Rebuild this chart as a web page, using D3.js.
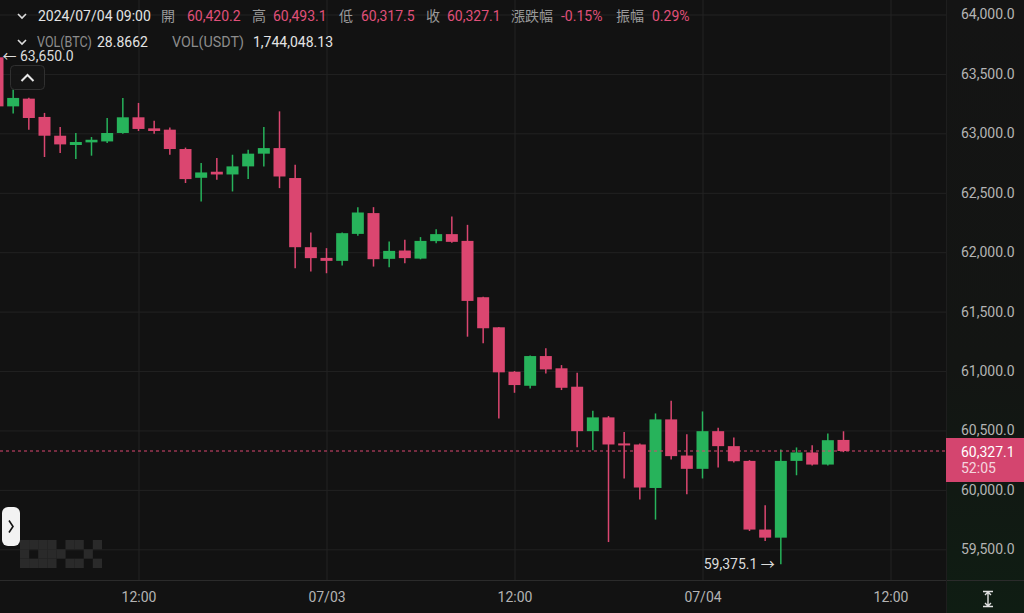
<!DOCTYPE html>
<html><head><meta charset="utf-8">
<script src="https://cdn.jsdelivr.net/npm/d3@7"></script>
<style>
html,body{margin:0;padding:0;background:#121212;}
svg{display:block;font-family:Roboto,"Noto Sans CJK TC",sans-serif;}
</style></head>
<body>
<svg id="c" width="1024" height="613"></svg>
<script>
// ---- data (BTC/USDT, 1h candles) ----
const times = [
 "2024-07-02T03:00","2024-07-02T04:00","2024-07-02T05:00","2024-07-02T06:00","2024-07-02T07:00",
 "2024-07-02T08:00","2024-07-02T09:00","2024-07-02T10:00","2024-07-02T11:00","2024-07-02T12:00",
 "2024-07-02T13:00","2024-07-02T14:00","2024-07-02T15:00","2024-07-02T16:00","2024-07-02T17:00",
 "2024-07-02T18:00","2024-07-02T19:00","2024-07-02T20:00","2024-07-02T21:00","2024-07-02T22:00",
 "2024-07-02T23:00","2024-07-03T00:00","2024-07-03T01:00","2024-07-03T02:00","2024-07-03T03:00",
 "2024-07-03T04:00","2024-07-03T05:00","2024-07-03T06:00","2024-07-03T07:00","2024-07-03T08:00",
 "2024-07-03T09:00","2024-07-03T10:00","2024-07-03T11:00","2024-07-03T12:00","2024-07-03T13:00",
 "2024-07-03T14:00","2024-07-03T15:00","2024-07-03T16:00","2024-07-03T17:00","2024-07-03T18:00",
 "2024-07-03T19:00","2024-07-03T20:00","2024-07-03T21:00","2024-07-03T22:00","2024-07-03T23:00",
 "2024-07-04T00:00","2024-07-04T01:00","2024-07-04T02:00","2024-07-04T03:00","2024-07-04T04:00",
 "2024-07-04T05:00","2024-07-04T06:00","2024-07-04T07:00","2024-07-04T08:00","2024-07-04T09:00"];
const opens  = [63640,63227,63292,63138,62980,62902,62924,62932,63003,63135,63042,63031,62868,62626,62677,
 62654,62722,62829,62876,62624,62042,61952,61927,62154,62329,61944,62014,61946,62093,62152,
 62095,61621,61368,60994,60876,61126,61023,60868,60494,60610,60391,60382,60016,60593,60289,
 60177,60494,60368,60244,59666,59598,60244,60315,60213,60420.2];
const highs  = [63650,63368,63300,63172,63054,63003,62969,63129,63298,63256,63107,63050,62880,62750,62792,
 62820,62862,63054,63185,62736,62165,62034,62165,62379,62379,62089,62104,62127,62194,62300,
 62230,61625,61370,61000,61130,61191,61050,60986,60665,60621,60488,60390,60643,60750,60469,
 60660,60522,60441,60250,59871,60340,60357,60376,60475,60493.1];
const lows   = [63180,63166,63031,62801,62834,62784,62812,62919,62997,63020,62997,62820,62582,62427,62609,
 62511,62615,62722,62539,61865,61837,61823,61887,62138,61879,61874,61907,61940,62076,62080,
 61289,61233,60601,60817,60854,60980,60840,60359,60334,59561,60096,59919,59750,60256,59963,
 60096,60188,60230,59654,59570,59375.1,60123,60205,60205,60317.5];
const closes = [63227,63298,63129,62980,62907,62927,62946,63003,63135,63037,63020,62868,62615,62671,62654,
 62722,62829,62876,62637,62042,61950,61927,62160,62334,61941,62011,61950,62095,62152,62087,
 61590,61360,60989,60882,61126,61014,60859,60494,60610,60382,60374,60020,60593,60284,60177,
 60494,60368,60241,59666,59598,60244,60315,60213,60418,60327.1];
const yTicks = [59500,60000,60500,61000,61500,62000,62500,63000,63500,64000];
const xTicks = ["2024-07-02T12:00","2024-07-03T00:00","2024-07-03T12:00","2024-07-04T00:00","2024-07-04T12:00"];
const lastPrice = 60327.1;
const countdown = "52:05";
const headerItems = [
  ["2024/07/04 09:00","#e4e4e4",38],["開","#9a9a9a",161],["60,420.2","#e0507a",187],
  ["高","#9a9a9a",252],["60,493.1","#e0507a",273],["低","#9a9a9a",339],["60,317.5","#e0507a",361],
  ["收","#9a9a9a",426],["60,327.1","#e0507a",447],["漲跌幅","#9a9a9a",511],["-0.15%","#e0507a",561],
  ["振幅","#9a9a9a",616],["0.29%","#e0507a",652]];
const volItems = [["VOL(BTC)","#8c8c8c",37,55],["28.8662","#e4e4e4",97,0],["VOL(USDT)","#8c8c8c",172,72],["1,744,048.13","#e4e4e4",253,0]];

// ---- setup ----
const RED="#db4670", GREEN="#27b35b";
const parse = d3.timeParse("%Y-%m-%dT%H:%M");
const candles = times.map((t,i)=>({t:parse(t),o:opens[i],h:highs[i],l:lows[i],c:closes[i]}));
const svg = d3.select("#c");
const W=1024,H=613, plotR=946, plotB=580;

const x = d3.scaleTime().domain([parse(xTicks[0]),parse(xTicks[4])]).range([138.5,890.5]);
const y = d3.scaleLinear().domain([59500,64000]).range([549.3,14.5]);

const defs = svg.append("defs");
const g1 = defs.append("linearGradient").attr("id","axbg").attr("x1",0).attr("y1",0).attr("x2",0).attr("y2",1);
g1.append("stop").attr("offset","0%").attr("stop-color","#141414");
g1.append("stop").attr("offset","60%").attr("stop-color","#131513");
g1.append("stop").attr("offset","100%").attr("stop-color","#0f1d13");
defs.append("clipPath").attr("id","plotclip").append("rect").attr("x",0).attr("y",0).attr("width",plotR).attr("height",plotB);

svg.append("rect").attr("width",W).attr("height",H).attr("fill","#121212");
svg.append("rect").attr("x",plotR).attr("y",0).attr("width",W-plotR).attr("height",H).attr("fill","url(#axbg)");

// gridlines
svg.append("g")
  .call(d3.axisRight(y).tickValues(yTicks).tickSize(plotR).tickFormat(""))
  .call(g=>g.select(".domain").remove())
  .call(g=>g.selectAll("line").attr("stroke","#222222").attr("stroke-width",1));
svg.append("g").attr("transform",`translate(0,${plotB})`)
  .call(d3.axisTop(x).tickValues(xTicks.map(parse)).tickSize(plotB).tickFormat(""))
  .call(g=>g.select(".domain").remove())
  .call(g=>g.selectAll("line").attr("stroke","#222222").attr("stroke-width",1));

// borders
svg.append("line").attr("x1",0).attr("x2",W).attr("y1",plotB+0.5).attr("y2",plotB+0.5).attr("stroke","#2b2b2b");
svg.append("line").attr("x1",plotR+0.5).attr("x2",plotR+0.5).attr("y1",0).attr("y2",H).attr("stroke","#1e1e1e");

// OKX watermark
const okx = [[0,0],[1,0],[2,0],[0,1],[2,1],[0,2],[1,2],[2,2],
             [3,0],[3,1],[3,2],[4,1],[5,0],[5,2],
             [6,0],[8,0],[7,1],[6,2],[8,2]];
svg.append("g").selectAll("rect").data(okx).join("rect")
  .attr("x",d=>20+d[0]*9.1).attr("y",d=>540+d[1]*9.3).attr("width",9.2).attr("height",9.4).attr("fill","#2a2a2a");

// candles
const plot = svg.append("g").attr("clip-path","url(#plotclip)");
const bw = 12;
const cg = plot.selectAll("g.candle").data(candles).join("g").attr("class","candle");
cg.append("line")
  .attr("x1",d=>x(d.t)).attr("x2",d=>x(d.t))
  .attr("y1",d=>y(d.h)).attr("y2",d=>y(d.l))
  .attr("stroke",d=>d.c>=d.o?GREEN:RED).attr("stroke-width",1.5);
cg.append("rect")
  .attr("x",d=>x(d.t)-bw/2).attr("width",bw)
  .attr("y",d=>y(Math.max(d.o,d.c)))
  .attr("height",d=>Math.max(1.5,Math.abs(y(d.o)-y(d.c))))
  .attr("fill",d=>d.c>=d.o?GREEN:RED);

// last price dashed line
svg.append("line").attr("x1",0).attr("x2",plotR).attr("y1",y(lastPrice)).attr("y2",y(lastPrice))
  .attr("stroke",RED).attr("stroke-width",1).attr("stroke-dasharray","3,3");

// y axis labels
svg.append("g").attr("transform",`translate(${plotR},0)`)
  .call(d3.axisRight(y).tickValues(yTicks).tickSize(0).tickPadding(15).tickFormat(d3.format(",.1f")))
  .call(g=>g.select(".domain").remove())
  .call(g=>g.selectAll("text").attr("fill","#b4b4b4").attr("font-size",14).attr("font-family",'Roboto,sans-serif'));

// x axis labels
const fmtX = d=> d.getHours()===0 ? d3.timeFormat("%m/%d")(d) : d3.timeFormat("%H:%M")(d);
svg.append("g").attr("transform",`translate(0,${plotB})`)
  .call(d3.axisBottom(x).tickValues(xTicks.map(parse)).tickSize(0).tickPadding(12).tickFormat(fmtX))
  .call(g=>g.select(".domain").remove())
  .call(g=>g.selectAll("text").attr("fill","#b4b4b4").attr("font-size",14).attr("font-family",'Roboto,sans-serif'));

// last price box
const ly = y(lastPrice);
svg.append("rect").attr("x",plotR).attr("y",ly-13).attr("width",W-plotR).attr("height",44).attr("fill","#d4456f");
svg.append("text").attr("x",961).attr("y",ly+1).attr("dominant-baseline","central").attr("fill","#ffffff").attr("font-size",14).text(d3.format(",.1f")(lastPrice));
svg.append("text").attr("x",961).attr("y",ly+17).attr("dominant-baseline","central").attr("fill","#f4d6df").attr("font-size",14).text(countdown);

// extreme markers
const maxC = candles[d3.maxIndex(candles,d=>d.h)];
const minC = candles[d3.minIndex(candles,d=>d.l)];
svg.append("text").attr("x",Math.max(2,x(maxC.t)+5)).attr("y",y(maxC.h)).attr("dominant-baseline","central")
  .attr("fill","#dcdcdc").attr("font-size",14).text("← "+d3.format(",.1f")(maxC.h));
svg.append("text").attr("x",x(minC.t)-6).attr("y",y(minC.l)).attr("dominant-baseline","central").attr("text-anchor","end")
  .attr("fill","#dcdcdc").attr("font-size",14).text(d3.format(",.1f")(minC.l)+" →");

// header
function chevronDown(cx,cy){
  svg.append("path").attr("d",`M${cx-4},${cy-2}L${cx},${cy+2}L${cx+4},${cy-2}`).attr("fill","none").attr("stroke","#dddddd").attr("stroke-width",1.6);
}
chevronDown(22,16); chevronDown(22,42);
svg.append("g").selectAll("text").data(headerItems).join("text")
  .attr("x",d=>d[2]).attr("y",16).attr("dominant-baseline","central").attr("font-size",14)
  .attr("fill",d=>d[1]).text(d=>d[0]);
const vt = svg.append("g").selectAll("text").data(volItems).join("text")
  .attr("x",d=>d[2]).attr("y",42).attr("dominant-baseline","central").attr("font-size",14)
  .attr("fill",d=>d[1]).text(d=>d[0]);
vt.filter(d=>d[3]>0).attr("textLength",d=>d[3]).attr("lengthAdjust","spacingAndGlyphs");

// collapse button
svg.append("rect").attr("x",10.5).attr("y",65.5).attr("width",34).attr("height",24).attr("rx",4)
  .attr("fill","rgba(22,22,22,0.9)").attr("stroke","#303030");
svg.append("path").attr("d","M21.5,81L27.5,75L33.5,81").attr("fill","none").attr("stroke","#e8e8e8").attr("stroke-width",2);

// left expand button
svg.append("rect").attr("x",2).attr("y",507).attr("width",18).attr("height",39).attr("rx",6).attr("fill","#f2f2f2");
svg.append("path").attr("d","M9,520.5L13,526.5L9,532.5").attr("fill","none").attr("stroke","#111").attr("stroke-width",1.6);

// bottom-right icon
svg.append("path").attr("d","M983,591.5H993M983,606.5H993M988,592V606M985,595L988,592L991,595M985,603L988,606L991,603")
  .attr("fill","none").attr("stroke","#e0e0e0").attr("stroke-width",1.4);
</script>
</body></html>
